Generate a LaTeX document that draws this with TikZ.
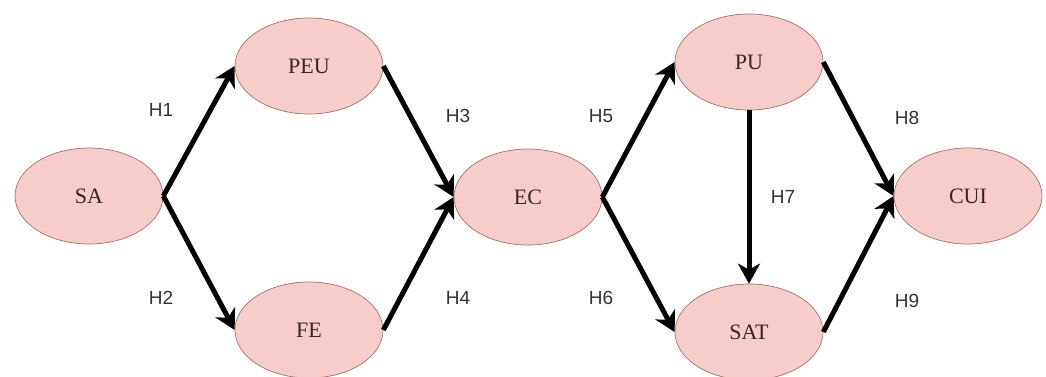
\documentclass[tikz,border=0pt]{standalone}
\usepackage{fontspec}
\setmainfont{Liberation Serif}
\newfontfamily\labelfont{Liberation Sans}
\usetikzlibrary{shapes.geometric,arrows.meta}
\definecolor{nodefill}{HTML}{F6CDCB}
\definecolor{nodeline}{HTML}{A8706C}
\definecolor{txt}{HTML}{333333}
\definecolor{nodetxt}{HTML}{3A2626}
\tikzset{
  construct/.style={ellipse, draw=nodeline, fill=nodefill, line width=0.7pt,
    minimum width=148pt, minimum height=96pt, inner sep=0pt,
    font=\fontsize{22}{26}\selectfont, text=nodetxt},
  hyp/.style={font=\labelfont\fontsize{19}{22}\selectfont, text=txt, inner sep=0pt},
  link/.style={line width=5pt, -{Stealth[length=20pt,width=22pt,inset=6pt]}}
}
\begin{document}
\begin{tikzpicture}[x=1pt,y=-1pt]
\useasboundingbox (0,0) rectangle (1046,376);
\node[construct] (SA)  at (89,196)  {SA};
\node[construct] (PEU) at (309,66)  {PEU};
\node[construct] (FE)  at (309,330) {FE};
\node[construct] (EC)  at (528,197) {EC};
\node[construct] (PU)  at (749,62)  {PU};
\node[construct] (SAT) at (749,332) {SAT};
\node[construct] (CUI) at (968,196) {CUI};

\draw[link] (SA.east) -- (PEU.west);
\draw[link] (SA.east) -- (FE.west);
\draw[link] (PEU.east) -- (EC.west);
\draw[link] (FE.east) -- (EC.west);
\draw[link] (EC.east) -- (PU.west);
\draw[link] (EC.east) -- (SAT.west);
\draw[link] (PU.south) -- (SAT.north);
\draw[link] (PU.east) -- (CUI.west);
\draw[link] (SAT.east) -- (CUI.west);

\node[hyp] (H1) at (161,110) {H1};
\node[hyp] (H2) at (161,298) {H2};
\node[hyp] (H3) at (458,116) {H3};
\node[hyp] (H4) at (458,298) {H4};
\node[hyp] (H5) at (601,116) {H5};
\node[hyp] (H6) at (601,298) {H6};
\node[hyp] (H7) at (783,197) {H7};
\node[hyp] (H8) at (907,118) {H8};
\node[hyp] (H9) at (907,301) {H9};
\end{tikzpicture}
\end{document}
